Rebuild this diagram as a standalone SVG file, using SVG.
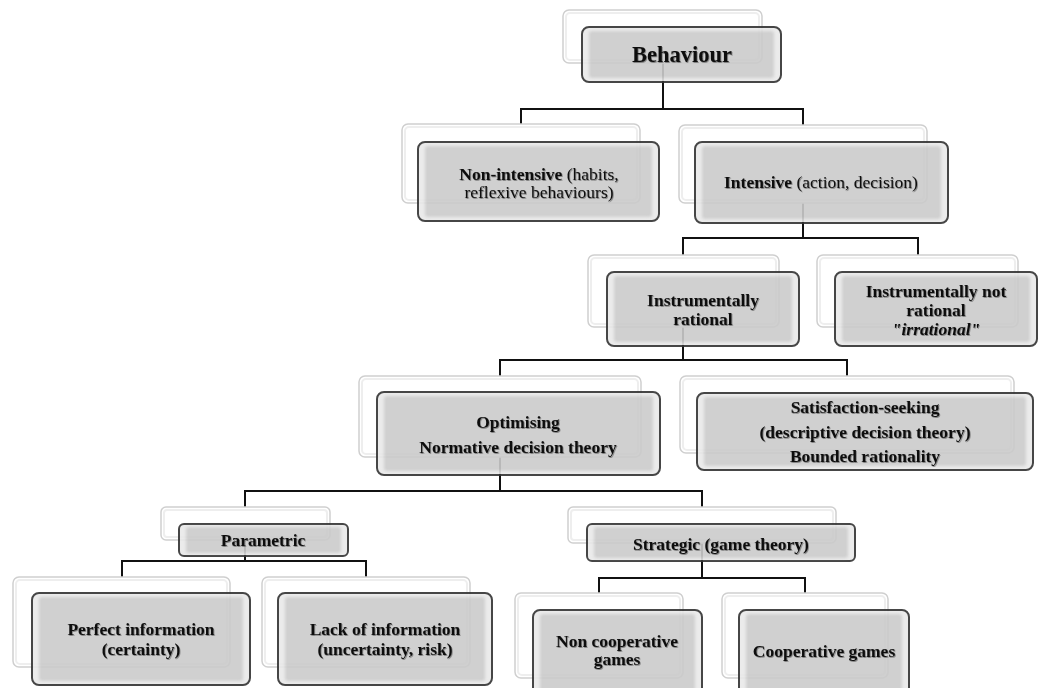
<svg xmlns="http://www.w3.org/2000/svg" width="1039" height="688" viewBox="0 0 1039 688">
  <defs>
    <filter id="soft" x="-5%" y="-10%" width="110%" height="120%">
      <feGaussianBlur stdDeviation="1.6"/>
    </filter>
    <filter id="ts" x="-5%" y="-20%" width="110%" height="140%">
      <feDropShadow dx="0.8" dy="0.9" stdDeviation="0.6" flood-color="#000000" flood-opacity="0.4"/>
    </filter>
    <style>
      .bk { fill: #ffffff; stroke: #cfcfcf; stroke-width: 1.5; }
      .bk2 { fill: none; stroke: #eeeeee; stroke-width: 2; }
      .face { opacity: 0.9; }
      .fr { fill: #e9e9e9; stroke: #333333; stroke-width: 2; }
      .in { fill: #cbcbcb; filter: url(#soft); }
      .t { font-family: "Liberation Serif", "Times New Roman", serif; font-size: 17.5px; font-weight: bold; text-anchor: middle; fill: #111111; filter: url(#ts); }
      .n { font-weight: normal; }
      .conn { fill: none; stroke: #111111; stroke-width: 2; }
    </style>
  </defs>

  <rect width="1039" height="688" fill="#ffffff"/>

  <!-- tree connectors (drawn under the boxes) -->
  <g id="connectors" class="conn">
    <path d="M663 63 V109 M521 124 V109 H803 V125"/>
    <path d="M803 203 V238 M683 255 V238 H918 V255"/>
    <path d="M683 327 V360 M500 376 V360 H847 V376"/>
    <path d="M500 457 V491 M245 507 V491 H702 V507"/>
    <path d="M245 540 V561 M122 577 V561 H366 V577"/>
    <path d="M702 543 V578 M599 593 V578 H805 V593"/>
  </g>

  <!-- level 0 -->
  <g id="behaviour">
    <rect class="bk" x="563" y="10" width="199" height="53" rx="6"/>
    <rect class="bk2" x="566" y="13" width="193" height="47" rx="4"/>
    <g class="face">
      <rect class="fr" x="582" y="27" width="199" height="55" rx="7"/>
      <rect class="in" x="589" y="31" width="185" height="47" rx="3"/>
    </g>
    <text class="t" x="682" y="62" style="font-size:22.5px">Behaviour</text>
  </g>

  <!-- level 1 -->
  <g id="non-intensive">
    <rect class="bk" x="402" y="124" width="238" height="79" rx="6"/>
    <rect class="bk2" x="405" y="127" width="232" height="73" rx="4"/>
    <g class="face">
      <rect class="fr" x="418" y="142" width="241" height="79" rx="7"/>
      <rect class="in" x="425" y="146" width="227" height="71" rx="3"/>
    </g>
    <text class="t" x="539" y="180">Non-intensive<tspan class="n"> (habits,</tspan></text>
    <text class="t n" x="539" y="198">reflexive behaviours)</text>
  </g>

  <g id="intensive">
    <rect class="bk" x="679" y="125" width="248" height="78" rx="6"/>
    <rect class="bk2" x="682" y="128" width="242" height="72" rx="4"/>
    <g class="face">
      <rect class="fr" x="695" y="142" width="253" height="81" rx="7"/>
      <rect class="in" x="702" y="146" width="239" height="73" rx="3"/>
    </g>
    <text class="t" x="821" y="188">Intensive<tspan class="n"> (action, decision)</tspan></text>
  </g>

  <!-- level 2 -->
  <g id="instrumentally-rational">
    <rect class="bk" x="588" y="255" width="191" height="72" rx="6"/>
    <rect class="bk2" x="591" y="258" width="185" height="66" rx="4"/>
    <g class="face">
      <rect class="fr" x="607" y="272" width="192" height="74" rx="7"/>
      <rect class="in" x="614" y="276" width="178" height="66" rx="3"/>
    </g>
    <text class="t" x="703" y="306">Instrumentally</text>
    <text class="t" x="703" y="325">rational</text>
  </g>

  <g id="instrumentally-not-rational">
    <rect class="bk" x="817" y="255" width="201" height="72" rx="6"/>
    <rect class="bk2" x="820" y="258" width="195" height="66" rx="4"/>
    <g class="face">
      <rect class="fr" x="835" y="272" width="202" height="74" rx="7"/>
      <rect class="in" x="842" y="276" width="188" height="66" rx="3"/>
    </g>
    <text class="t" x="936" y="297">Instrumentally not</text>
    <text class="t" x="936" y="316">rational</text>
    <text class="t" x="936" y="335" font-style="italic">"irrational"</text>
  </g>

  <!-- level 3 -->
  <g id="optimising">
    <rect class="bk" x="359" y="376" width="282" height="81" rx="6"/>
    <rect class="bk2" x="362" y="379" width="276" height="75" rx="4"/>
    <g class="face">
      <rect class="fr" x="377" y="392" width="283" height="83" rx="7"/>
      <rect class="in" x="384" y="396" width="269" height="75" rx="3"/>
    </g>
    <text class="t" x="518" y="428">Optimising</text>
    <text class="t" x="518" y="453">Normative decision theory</text>
  </g>

  <g id="satisfaction-seeking">
    <rect class="bk" x="680" y="376" width="334" height="77" rx="6"/>
    <rect class="bk2" x="683" y="379" width="328" height="71" rx="4"/>
    <g class="face">
      <rect class="fr" x="697" y="393" width="336" height="77" rx="7"/>
      <rect class="in" x="704" y="397" width="322" height="69" rx="3"/>
    </g>
    <text class="t" x="865" y="413">Satisfaction-seeking</text>
    <text class="t" x="865" y="438">(descriptive decision theory)</text>
    <text class="t" x="865" y="462">Bounded rationality</text>
  </g>

  <!-- level 4 -->
  <g id="parametric">
    <rect class="bk" x="161" y="507" width="169" height="33" rx="5"/>
    <rect class="bk2" x="164" y="510" width="163" height="27" rx="3"/>
    <g class="face">
      <rect class="fr" x="179" y="524" width="169" height="32" rx="5"/>
      <rect class="in" x="186" y="527" width="155" height="26" rx="3"/>
    </g>
    <text class="t" x="263" y="546">Parametric</text>
  </g>

  <g id="strategic">
    <rect class="bk" x="568" y="507" width="268" height="36" rx="5"/>
    <rect class="bk2" x="571" y="510" width="262" height="30" rx="3"/>
    <g class="face">
      <rect class="fr" x="587" y="524" width="268" height="37" rx="5"/>
      <rect class="in" x="594" y="527" width="254" height="31" rx="3"/>
    </g>
    <text class="t" x="721" y="550">Strategic (game theory)</text>
  </g>

  <!-- level 5 -->
  <g id="perfect-information">
    <rect class="bk" x="13" y="577" width="217" height="90" rx="6"/>
    <rect class="bk2" x="16" y="580" width="211" height="84" rx="4"/>
    <g class="face">
      <rect class="fr" x="32" y="593" width="218" height="92" rx="7"/>
      <rect class="in" x="39" y="597" width="204" height="84" rx="3"/>
    </g>
    <text class="t" x="141" y="635">Perfect information</text>
    <text class="t" x="141" y="655">(certainty)</text>
  </g>

  <g id="lack-of-information">
    <rect class="bk" x="262" y="577" width="208" height="90" rx="6"/>
    <rect class="bk2" x="265" y="580" width="202" height="84" rx="4"/>
    <g class="face">
      <rect class="fr" x="278" y="593" width="214" height="92" rx="7"/>
      <rect class="in" x="285" y="597" width="200" height="84" rx="3"/>
    </g>
    <text class="t" x="385" y="635">Lack of information</text>
    <text class="t" x="385" y="655">(uncertainty, risk)</text>
  </g>

  <g id="non-cooperative-games">
    <rect class="bk" x="515" y="593" width="168" height="85" rx="6"/>
    <rect class="bk2" x="518" y="596" width="162" height="79" rx="4"/>
    <g class="face">
      <rect class="fr" x="533" y="610" width="169" height="88" rx="7"/>
      <rect class="in" x="540" y="614" width="155" height="80" rx="3"/>
    </g>
    <text class="t" x="617" y="647">Non cooperative</text>
    <text class="t" x="617" y="665">games</text>
  </g>

  <g id="cooperative-games">
    <rect class="bk" x="722" y="593" width="166" height="85" rx="6"/>
    <rect class="bk2" x="725" y="596" width="160" height="79" rx="4"/>
    <g class="face">
      <rect class="fr" x="739" y="610" width="170" height="88" rx="7"/>
      <rect class="in" x="746" y="614" width="156" height="80" rx="3"/>
    </g>
    <text class="t" x="824" y="657">Cooperative games</text>
  </g>
</svg>
